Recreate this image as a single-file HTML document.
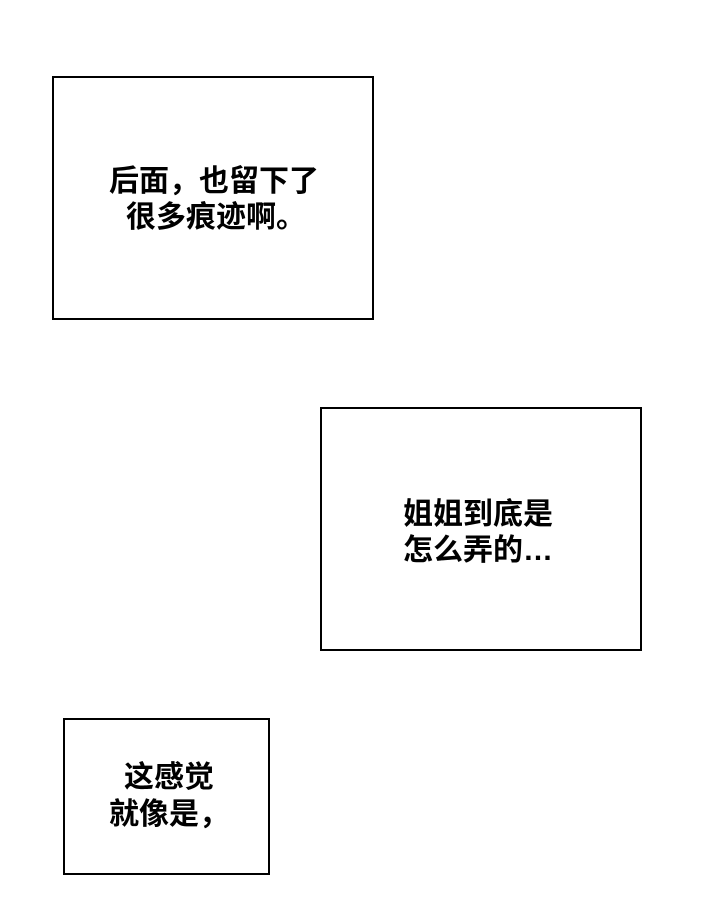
<!DOCTYPE html>
<html><head><meta charset="utf-8"><style>
body{margin:0;background:#fff;}
.c{position:relative;width:720px;height:900px;overflow:hidden;background:#fff;}
.b{position:absolute;border:2px solid #000;box-sizing:border-box;background:#fff;}
.t{position:absolute;font-family:"Liberation Sans","Noto Sans CJK SC",sans-serif;font-size:30px;font-weight:bold;color:#000;line-height:36px;white-space:nowrap;}
</style></head><body><div class="c">
<div class="b" style="left:52px;top:76px;width:322px;height:244px"></div>
<div class="t" style="left:109px;top:164px">后面，也留下了</div>
<div class="t" style="left:126px;top:200px">很多痕迹啊。</div>
<div class="b" style="left:320px;top:407px;width:322px;height:244px"></div>
<div class="t" style="left:403px;top:497px">姐姐到底是</div>
<div class="t" style="left:403px;top:533px">怎么弄的…</div>
<div class="b" style="left:63px;top:718px;width:207px;height:157px"></div>
<div class="t" style="left:124px;top:760px">这感觉</div>
<div class="t" style="left:109px;top:797px">就像是，</div>
</div></body></html>
